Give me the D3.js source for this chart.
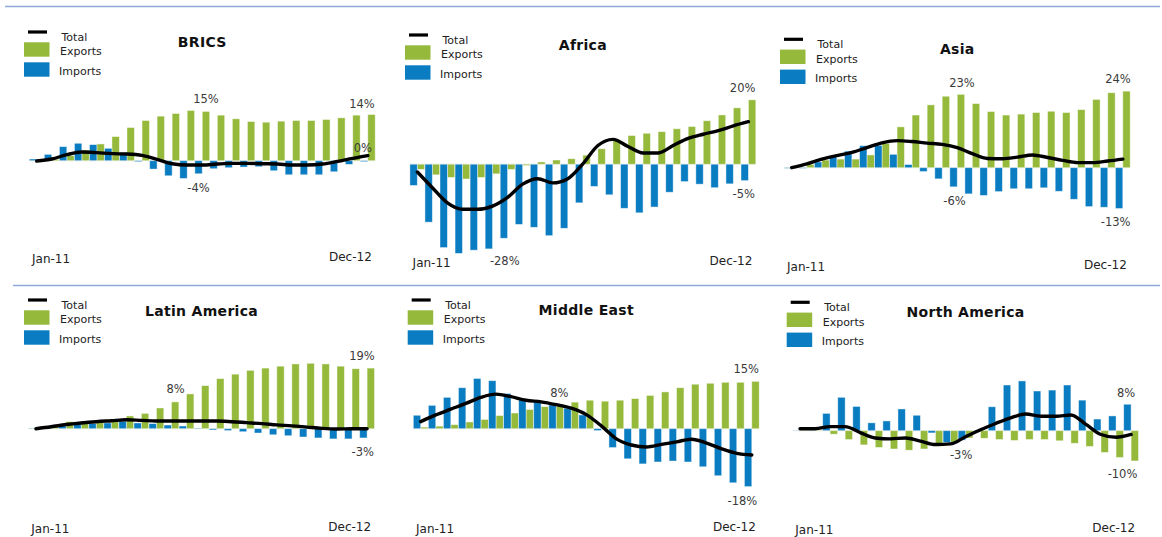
<!DOCTYPE html>
<html>
<head>
<meta charset="utf-8">
<script src="https://cdn.jsdelivr.net/npm/d3@7"></script>
<style>
  html, body { margin: 0; padding: 0; background: #fff; }
  svg { display: block; font-family: "DejaVu Sans", Verdana, sans-serif; }
</style>
</head>
<body>
<svg id="chart" width="1162" height="537"></svg>
<script>
// Monthly trade growth by region, % change (Jan-11 .. Dec-12)
const bricsExports = [0.0, 0.4, 1.5, 3.2, 5.0, 7.2, 9.9, 12.0, 13.3, 14.1, 15.0, 14.7, 13.6, 12.5, 11.7, 11.5, 11.8, 12.0, 12.0, 12.3, 12.8, 13.6, 13.8];
const bricsImports = [0.5, 1.9, 4.2, 5.2, 4.8, 3.7, 2.4, -0.3, -2.5, -4.5, -5.3, -3.9, -2.4, -2.1, -1.9, -1.8, -3.0, -4.2, -4.2, -4.2, -3.3, -1.1, -0.3];
const bricsTotal   = [-0.1, 0.5, 1.8, 2.6, 2.4, 2.1, 2.0, 1.6, 0.4, -0.9, -1.3, -1.3, -1.0, -0.8, -0.8, -0.9, -1.0, -1.3, -1.3, -1.0, -0.2, 0.7, 1.5];

const africaExports = [-1.6, -3.3, -4.1, -4.6, -4.1, -3.0, -1.6, -0.4, 0.7, 1.3, 1.7, 2.8, 4.8, 7.6, 8.9, 9.6, 10.1, 11.0, 11.7, 13.5, 15.3, 17.5, 20.0];
const africaImports = [-6.6, -18.0, -25.9, -27.7, -26.7, -26.3, -23.0, -18.7, -19.6, -22.2, -19.9, -12.0, -6.9, -9.5, -13.7, -15.1, -13.3, -8.7, -5.4, -6.2, -7.3, -6.1, -5.1];
const africaTotal   = [-2.4, -7.3, -12.0, -14.0, -14.0, -13.0, -10.3, -6.2, -4.5, -5.8, -4.5, 0.1, 5.8, 7.7, 5.5, 3.5, 3.5, 5.8, 8.0, 9.3, 10.4, 11.9, 13.2];

const asiaExports = [0.0, 1.0, 2.4, 2.7, 2.7, 4.0, 7.6, 12.8, 16.5, 19.7, 22.4, 23.0, 20.1, 17.6, 16.5, 16.8, 17.3, 17.7, 17.3, 18.2, 21.4, 23.5, 24.0];
const asiaImports = [-0.2, -0.2, 1.8, 3.5, 5.2, 6.9, 7.0, 4.2, 1.0, -1.2, -3.5, -6.0, -8.2, -8.7, -7.5, -6.6, -6.6, -6.3, -7.4, -9.9, -12.2, -12.4, -12.8];
const asiaTotal   = [0.0, 1.2, 2.7, 3.8, 4.8, 6.3, 7.8, 8.5, 8.2, 7.7, 7.3, 6.3, 4.4, 2.9, 2.8, 3.3, 4.0, 3.2, 2.3, 1.6, 1.6, 2.1, 2.7];

const latamExports = [0.0, 0.6, 2.2, 2.4, 2.4, 2.5, 4.0, 4.8, 6.5, 8.4, 10.9, 13.5, 15.7, 17.1, 18.3, 19.0, 19.6, 20.3, 20.5, 20.3, 19.6, 18.8, 19.0];
const latamImports = [-0.1, 0.6, 0.9, 1.35, 1.6, 1.8, 2.3, 1.8, 1.6, 1.15, 0.85, 0.2, -0.4, -0.6, -0.95, -1.35, -1.9, -2.2, -2.6, -2.9, -3.2, -3.2, -2.9];
const latamTotal   = [0.0, 0.6, 1.3, 1.8, 2.2, 2.5, 2.8, 2.6, 2.4, 2.4, 2.4, 2.4, 2.4, 2.2, 1.9, 1.6, 1.2, 0.9, 0.5, 0.1, -0.1, 0.0, 0.0];

const mideastExports = [0.5, 0.8, 1.25, 2.1, 2.9, 4.1, 4.9, 6.0, 6.9, 7.6, 8.3, 8.9, 8.6, 8.9, 9.4, 10.4, 11.5, 12.8, 13.9, 14.2, 14.5, 14.5, 14.8];
const mideastImports = [4.2, 7.3, 9.8, 12.8, 15.7, 15.0, 11.0, 9.0, 8.4, 7.4, 6.4, 4.3, -0.6, -5.9, -9.4, -11.0, -10.4, -10.1, -10.4, -11.9, -14.7, -16.9, -18.1];
const mideastTotal   = [2.2, 4.3, 6.1, 7.9, 9.8, 10.8, 10.0, 8.9, 8.4, 7.5, 6.4, 4.4, 0.9, -3.2, -5.1, -5.7, -4.9, -4.1, -3.3, -4.5, -6.3, -7.7, -8.2];

const namExports = [0.1, 0.2, -1.1, -2.8, -4.5, -5.3, -5.8, -6.2, -5.8, -4.9, -3.9, -2.3, -2.4, -2.8, -3.1, -2.8, -2.8, -3.2, -4.0, -5.0, -6.9, -8.5, -9.6];
const namImports = [0.1, 0.1, 5.5, 10.6, 7.7, 2.5, 3.1, 6.9, 4.9, -0.7, -3.7, -3.0, 0.1, 7.6, 14.5, 15.8, 12.6, 12.9, 14.5, 9.7, 3.7, 4.7, 8.4];
const namTotal   = [0.6, 0.6, 1.3, 1.3, -0.6, -2.3, -2.6, -2.3, -3.3, -4.4, -4.2, -1.9, 0.3, 2.3, 4.1, 5.3, 4.6, 4.6, 5.0, 2.0, -1.2, -2.1, -1.2];

const regionTitles = ["BRICS", "Africa", "Asia", "Latin America", "Middle East", "North America"];
const periodLabels = ["Jan-11", "Dec-12"];
const legendLabels = ["Total", "Exports", "Imports"];

// Months whose values are annotated: [series, month index]
const bricsNotes   = [["exports", 11], ["imports", 11], ["exports", 22], ["imports", 22]];
const africaNotes  = [["exports", 22], ["imports", 22], ["imports", 3]];
const asiaNotes    = [["exports", 11], ["exports", 22], ["imports", 11], ["imports", 22]];
const latamNotes   = [["exports", 9], ["exports", 22], ["imports", 22]];
const mideastNotes = [["exports", 9], ["exports", 22], ["imports", 22]];
const namNotes     = [["imports", 22], ["exports", 22], ["imports", 11]];

const regions = [
  { title: regionTitles[0], exports: bricsExports,   imports: bricsImports,   total: bricsTotal,   notes: bricsNotes },
  { title: regionTitles[1], exports: africaExports,  imports: africaImports,  total: africaTotal,  notes: africaNotes },
  { title: regionTitles[2], exports: asiaExports,    imports: asiaImports,    total: asiaTotal,    notes: asiaNotes },
  { title: regionTitles[3], exports: latamExports,   imports: latamImports,   total: latamTotal,   notes: latamNotes },
  { title: regionTitles[4], exports: mideastExports, imports: mideastImports, total: mideastTotal, notes: mideastNotes },
  { title: regionTitles[5], exports: namExports,     imports: namImports,     total: namTotal,     notes: namNotes }
];

// Panel geometry: first month x, zero line y, pixels per percentage point,
// title baseline, legend anchor, period label baseline, note offsets.
const frames = [
  { x0: 36.7,  zero: 160.7, k: 3.35, titleY: 46.8,  legX: 24,    legY: 32,    axisY: 262.6,
    noteOffsets: [[0, -12], [0, 14.4], [-9.5, -10.7], [-1.2, -13.4]] },
  { x0: 417.3, zero: 164.2, k: 3.22, titleY: 50.1,  legX: 405,   legY: 35,    axisY: 266.6,
    noteOffsets: [[-9.5, -11.5], [-1, 13.4], [46, 7.6]] },
  { x0: 791.7, zero: 167.7, k: 3.19, titleY: 54.4,  legX: 780,   legY: 39.3,  axisY: 271,
    noteOffsets: [[1, -11.3], [-8.5, -12], [1, 14], [-3.5, 13]] },
  { x0: 36,    zero: 428.7, k: 3.19, titleY: 315.8, legX: 24,    legY: 300,   axisY: 532.6,
    noteOffsets: [[0.4, -12.8], [-8.8, -12], [-0.7, 13.7]] },
  { x0: 420.7, zero: 428.7, k: 3.2,  titleY: 315.1, legX: 407.7, legY: 300,   axisY: 532.6,
    noteOffsets: [[-0.6, -11], [-9.3, -12], [-5.7, 14]] },
  { x0: 800,   zero: 430.7, k: 3.15, titleY: 317.4, legX: 786.7, legY: 302.3, axisY: 533.6,
    noteOffsets: [[-1.3, -11], [-12.3, 13.3], [-0.7, 14.8]] }
];

const GREEN = "#95b93b";
const BLUE = "#0a7cc2";
const STEP = 15.05;
const BAR_W = 7.4;

const svg = d3.select("#chart");

// Separators between the rows of panels
svg.append("line").attr("x1", 5).attr("x2", 1160).attr("y1", 6.5).attr("y2", 6.5)
  .attr("stroke", "#8faad9").attr("stroke-width", 1.3);
svg.append("line").attr("x1", 13).attr("x2", 1160).attr("y1", 285.5).attr("y2", 285.5)
  .attr("stroke", "#8faad9").attr("stroke-width", 1.3);

regions.forEach((r, p) => {
  const f = frames[p];
  const n = r.exports.length;
  const g = svg.append("g");

  const x = d3.scaleLinear().domain([0, n - 1]).range([f.x0, f.x0 + STEP * (n - 1)]);
  const y = d3.scaleLinear().domain([0, 10]).range([f.zero, f.zero - 10 * f.k]);

  const left = x(0) - BAR_W, right = x(n - 1) + BAR_W;

  // zero line
  g.append("line").attr("x1", left).attr("x2", right)
    .attr("y1", y(0)).attr("y2", y(0))
    .attr("stroke", "#e2e6d8").attr("stroke-width", 1);

  // exports: right half of each month slot
  g.append("g").selectAll("rect").data(r.exports).join("rect")
    .attr("x", (d, i) => x(i))
    .attr("width", BAR_W)
    .attr("y", d => Math.min(y(d), y(0)))
    .attr("height", d => Math.abs(y(d) - y(0)))
    .attr("fill", GREEN)
    .attr("stroke", "rgba(255,255,255,0.55)").attr("stroke-width", 0.8);

  // imports: left half of each month slot
  g.append("g").selectAll("rect").data(r.imports).join("rect")
    .attr("x", (d, i) => x(i) - BAR_W)
    .attr("width", BAR_W)
    .attr("y", d => Math.min(y(d), y(0)))
    .attr("height", d => Math.abs(y(d) - y(0)))
    .attr("fill", BLUE)
    .attr("stroke", "rgba(255,255,255,0.55)").attr("stroke-width", 0.8);

  // total, smoothed without overshoot
  const line = d3.line()
    .x((d, i) => x(i))
    .y(d => y(d))
    .curve(d3.curveMonotoneX);
  g.append("path").datum(r.total)
    .attr("d", line)
    .attr("fill", "none")
    .attr("stroke", "#000")
    .attr("stroke-width", 3.4)
    .attr("stroke-linejoin", "round")
    .attr("stroke-linecap", "round");

  // value notes
  r.notes.forEach(([series, i], j) => {
    const v = r[series][i];
    const [dx, dy] = f.noteOffsets[j];
    const cx = series === "exports" ? x(i) + BAR_W / 2 : x(i) - BAR_W / 2;
    g.append("text")
      .attr("x", cx + dx)
      .attr("y", y(v) + dy)
      .attr("text-anchor", "middle")
      .attr("dominant-baseline", "central")
      .attr("font-size", 11.5)
      .attr("fill", "#3a3a3a")
      .text(`${Math.round(v)}%`);
  });

  // title
  g.append("text")
    .attr("x", (left + right) / 2)
    .attr("y", f.titleY)
    .attr("text-anchor", "middle")
    .attr("font-size", 14)
    .attr("font-weight", "bold")
    .attr("letter-spacing", 0.3)
    .attr("fill", "#111")
    .text(r.title);

  // period labels
  g.append("text")
    .attr("x", x(0) - 4.7).attr("y", f.axisY)
    .attr("font-size", 12).attr("fill", "#222")
    .text(periodLabels[0]);
  g.append("text")
    .attr("x", x(n - 1) + 4).attr("y", f.axisY - 1.8)
    .attr("text-anchor", "end")
    .attr("font-size", 12).attr("fill", "#222")
    .text(periodLabels[1]);

  // legend
  const lg = g.append("g").attr("transform", `translate(${f.legX},${f.legY})`);
  lg.append("line").attr("x1", 4).attr("x2", 23).attr("y1", 0).attr("y2", 0)
    .attr("stroke", "#000").attr("stroke-width", 3.2);
  lg.append("rect").attr("x", 0).attr("y", 10.3).attr("width", 25.5).attr("height", 14.4).attr("fill", GREEN);
  lg.append("rect").attr("x", 0).attr("y", 30.3).attr("width", 25.5).attr("height", 14.4).attr("fill", BLUE);
  const lt = [[37.5, 8.6], [36, 23.3], [35, 42.7]];
  legendLabels.forEach((t, j) => {
    lg.append("text").attr("x", lt[j][0]).attr("y", lt[j][1])
      .attr("font-size", 11).attr("fill", "#222").text(t);
  });
});
</script>
</body>
</html>
